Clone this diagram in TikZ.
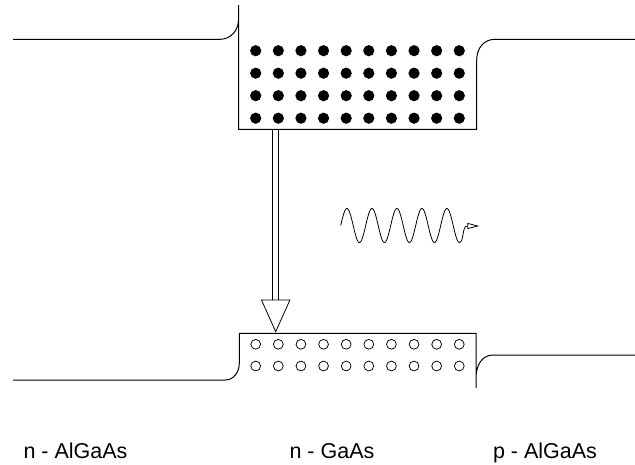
\documentclass[tikz,border=0pt]{standalone}
\usepackage{fontspec}
\setmainfont{Liberation Sans}
\usetikzlibrary{arrows.meta, calc}
\begin{document}
\begin{tikzpicture}[x=1pt, y=-1pt, line width=0.9pt,
    band/.style={line width=1pt},
    lbl/.style={anchor=base, inner sep=0pt, font=\fontsize{21.5}{24}\selectfont},
    photon/.style={line width=0.8pt, -{Triangle[open, length=12pt, width=6pt]}}]
    \useasboundingbox (0,0) rectangle (635,464);
    % conduction band
    \draw[band] (13,39.3) -- (220,39.3) .. controls (231,39.3) and (238.5,30) .. (238.5,20)
        (238.5,5) -- (238.5,129.3) -- (476.7,129.3) -- (476.7,60)
        .. controls (476.7,48) and (484,39.3) .. (495,39.3) -- (635,39.3);
    % valence band
    \draw[band] (13,380) -- (225,380) .. controls (234,380) and (239.3,372) .. (239.3,363)
        -- (239.3,333.3) -- (476,333.3) -- (476,388)
        (476,378) .. controls (476,364) and (483,355) .. (493,355) -- (635,355);
    % electrons and holes
    \foreach \i in {0,...,9} {
        \foreach \j in {0,...,3}
            \fill (255.7+22.62*\i, 50.7+22.5*\j) circle (5.6pt);
        \foreach \j in {0,1}
            \draw[line width=0.75pt] (255.7+22.62*\i, 344.3+21.7*\j) circle (4.9pt);
    }
    % recombination
    \coordinate (cb) at (275.7,129.3);
    \coordinate (head) at (275.7,300);
    \coordinate (vb) at (275.7,331.7);
    \draw[line width=0.8pt] ($(cb)+(-3,0)$) -- ($(head)+(-3,0)$)
        ($(cb)+(3,0)$) -- ($(head)+(3,0)$);
    \draw[line width=0.8pt] ($(head)+(-14.2,0)$) -- ($(head)+(14.2,0)$) -- (vb) -- cycle;
    % emitted photon
    \draw[photon] plot[domain=0:4.75, samples=240] ({340.7+25*\x}, {225.5-17*sin(360*\x)})
        .. controls (464,242.5) and (462,226) .. (467,226) -- (479.3,226);
    % layers
    \node[lbl] (nAl) at (75.5,458.5) {n - AlGaAs};
    \node[lbl] (nGa) at (332,458.5) {n - GaAs};
    \node[lbl] (pAl) at (545,458.5) {p - AlGaAs};
\end{tikzpicture}
\end{document}
